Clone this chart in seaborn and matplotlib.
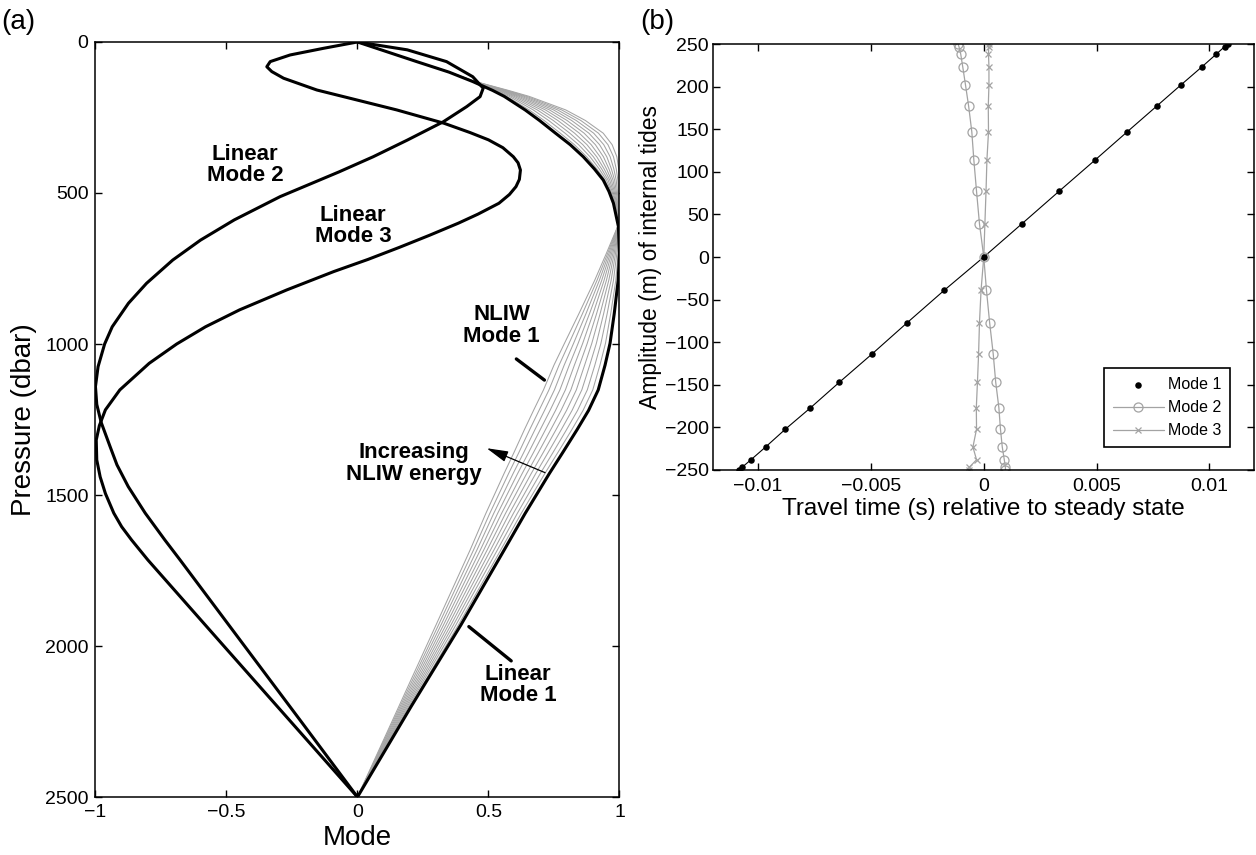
import numpy as np
import pandas as pd
import seaborn as sns
import matplotlib
matplotlib.use("Agg")
import matplotlib.pyplot as plt

# ---------------- data: panel (a) ----------------
mode1_p = [0, 65, 100, 131, 160, 180, 225, 260, 302, 340, 380, 420, 457, 495,
           534, 611, 700, 790, 900, 998, 1070, 1152, 1220, 1284, 1360, 1428,
           1561, 1682, 1930, 2200, 2500]
mode1_x = [0, 0.226, 0.35, 0.44, 0.515, 0.56, 0.64, 0.695, 0.756, 0.812, 0.862,
           0.904, 0.938, 0.96, 0.977, 0.996, 1.0, 0.995, 0.98, 0.964, 0.945,
           0.919, 0.882, 0.838, 0.783, 0.733, 0.64, 0.56, 0.395, 0.205, 0]
# most energetic NLIW mode-1 profile (same pressure levels as mode1_p)
nliw_x = [0, 0.228, 0.352, 0.45, 0.575, 0.655, 0.795, 0.87, 0.938, 0.972, 0.99,
          0.997, 1.0, 1.0, 1.0, 0.993, 0.95, 0.905, 0.845, 0.79, 0.75, 0.71,
          0.672, 0.637, 0.597, 0.56, 0.49, 0.43, 0.30, 0.158, 0]
# relative NLIW energy of each grey profile (fraction of the largest one)
nliw_levels = [0.1, 0.2, 0.3, 0.4, 0.5, 0.6, 0.7, 0.8, 0.9, 1.0]

mode2_p = [0, 26, 65, 115, 153, 181, 214, 264, 325, 380, 430, 512, 589, 656,
           722, 799, 865, 943, 1000, 1075, 1141, 1200, 1260, 1340, 1400, 1472,
           1560, 1649, 1715, 2000, 2250, 2500]
mode2_x = [0, 0.19, 0.34, 0.44, 0.48, 0.468, 0.417, 0.328, 0.19, 0.06, -0.07,
           -0.295, -0.47, -0.599, -0.705, -0.805, -0.874, -0.936, -0.965, -0.99,
           -1.0, -0.995, -0.978, -0.944, -0.918, -0.875, -0.81, -0.735, -0.677,
           -0.431, -0.215, 0]

mode3_p = [0, 21, 43, 65, 82, 98, 120, 159, 186, 225, 269, 300, 324, 350, 380,
           400, 424, 455, 479, 505, 534, 570, 600, 640, 680, 720, 760, 821, 887,
           943, 1000, 1064, 1152, 1218, 1270, 1318, 1384, 1440, 1495, 1560, 1605,
           1649, 1715, 2000, 2250, 2500]
mode3_x = [0, -0.13, -0.257, -0.333, -0.346, -0.327, -0.282, -0.155, -0.03, 0.15,
           0.33, 0.43, 0.50, 0.555, 0.595, 0.613, 0.622, 0.618, 0.605, 0.58,
           0.54, 0.46, 0.385, 0.275, 0.16, 0.04, -0.09, -0.27, -0.45, -0.58,
           -0.69, -0.795, -0.907, -0.962, -0.985, -0.997, -0.995, -0.982,
           -0.962, -0.93, -0.90, -0.862, -0.80, -0.51, -0.255, 0]

# ---------------- data: panel (b) ----------------
amplitude = [250, 247, 238, 223, 202, 177, 147, 114, 77, 39, 0,
             -39, -77, -114, -147, -177, -202, -223, -238, -247, -250]
tt_mode1 = [0.01082, 0.01068, 0.01030, 0.00966, 0.00874, 0.00766, 0.00636,
            0.00494, 0.00333, 0.00169, 0.0, -0.00175, -0.00339, -0.00496,
            -0.0064, -0.00768, -0.00879, -0.00967, -0.01032, -0.01072, -0.01084]
tt_mode2 = [-0.00114, -0.0011, -0.00102, -0.00093, -0.00081, -0.00067, -0.00053,
            -0.00044, -0.00032, -0.00019, 0.0, 0.00012, 0.00026, 0.00042,
            0.00053, 0.00067, 0.00074, 0.00082, 0.00091, 0.00096, 0.00096]
tt_mode3 = [0.00023, 0.00022, 0.00021, 0.00023, 0.00023, 0.0002, 0.00021,
            0.00014, 0.0001, 0.00005, 0.0, -0.00012, -0.00019, -0.00023,
            -0.00028, -0.00033, -0.00032, -0.00048, -0.00032, -0.00065, -0.00067]

a_xticks = [-1, -0.5, 0, 0.5, 1]
a_xticklabels = ["\u22121", "\u22120.5", "0", "0.5", "1"]
a_yticks = [0, 500, 1000, 1500, 2000, 2500]
b_xticks = [-0.01, -0.005, 0, 0.005, 0.01]
b_xticklabels = ["\u22120.01", "\u22120.005", "0", "0.005", "0.01"]
b_yticks = list(range(-250, 251, 50))

# ---------------- style ----------------
sns.set_theme(style="ticks", rc={
    "axes.edgecolor": "black", "axes.linewidth": 1.1,
    "xtick.color": "black", "ytick.color": "black",
    "text.color": "black", "axes.labelcolor": "black",
    "xtick.direction": "in", "ytick.direction": "in",
    "xtick.major.size": 5, "ytick.major.size": 5,
    "xtick.major.width": 1.0, "ytick.major.width": 1.0,
})
plt.rcParams["font.family"] = ["Liberation Sans", "DejaVu Sans"]

fig = plt.figure(figsize=(12.56, 8.55), dpi=100)
axA = fig.add_axes([0.0760, 0.0678, 0.4172, 0.8831])
axB = fig.add_axes([0.5677, 0.4503, 0.4311, 0.4982])

# ---------------- panel (a) ----------------
m1 = np.array(mode1_x)
nl = np.array(nliw_x)
for lvl in nliw_levels:
    sns.lineplot(x=m1 + lvl * (nl - m1), y=mode1_p, sort=False, estimator=None,
                 orient="y", ax=axA, color="0.64", lw=0.75)
for xs, ps in [(mode1_x, mode1_p), (mode2_x, mode2_p), (mode3_x, mode3_p)]:
    sns.lineplot(x=xs, y=ps, sort=False, estimator=None, orient="y", ax=axA,
                 color="black", lw=2.2)

axA.set_xlim(-1, 1)
axA.set_ylim(2500, 0)
axA.set_xticks(a_xticks)
axA.set_xticklabels(a_xticklabels)
axA.set_yticks(a_yticks)
axA.set_yticklabels([str(v) for v in a_yticks])
axA.tick_params(top=True, right=True, labelsize=14, pad=5)
axA.set_xlabel("Mode", fontsize=20, labelpad=3)
axA.set_ylabel("Pressure (dbar)", fontsize=20, labelpad=6)

bold = dict(fontsize=16, fontweight="bold", ha="center", va="center",
            linespacing=1.05)
axA.text(-0.429, 407, "Linear\nMode 2", **bold)
axA.text(-0.017, 609, "Linear\nMode 3", **bold)
axA.text(0.55, 940, "NLIW\nMode 1", **bold)
axA.text(0.215, 1395, "Increasing\nNLIW energy", **bold)
axA.text(0.613, 2129, "Linear\nMode 1", **bold)
axA.annotate("", xy=(0.722, 1125), xytext=(0.598, 1044),
             arrowprops=dict(arrowstyle="-", lw=2.4, color="black"))
axA.annotate("", xy=(0.417, 1930), xytext=(0.595, 2055),
             arrowprops=dict(arrowstyle="-", lw=2.4, color="black"))
axA.annotate("", xy=(0.493, 1345), xytext=(0.716, 1426),
             arrowprops=dict(arrowstyle="-|>,head_length=1.1,head_width=0.28",
                             lw=0.9, color="black", shrinkA=0, shrinkB=0))

# ---------------- panel (b) ----------------
sns.lineplot(x=tt_mode1, y=amplitude, sort=False, estimator=None, ax=axB,
             color="black", lw=0.8)
sns.scatterplot(x=tt_mode1, y=amplitude, ax=axB, color="black", s=22,
                linewidth=0, label="Mode 1", zorder=4)
sns.lineplot(x=tt_mode2, y=amplitude, sort=False, estimator=None, ax=axB,
             color="0.64", lw=0.9, marker="o", markersize=6.5,
             markerfacecolor="none", markeredgecolor="0.64",
             markeredgewidth=0.9, label="Mode 2")
sns.lineplot(x=tt_mode3, y=amplitude, sort=False, estimator=None, ax=axB,
             color="0.64", lw=0.9, marker="x", markersize=4.5,
             markeredgecolor="0.64", markeredgewidth=0.9, label="Mode 3")

axB.set_xlim(-0.012, 0.012)
axB.set_ylim(-250, 250)
axB.set_xticks(b_xticks)
axB.set_xticklabels(b_xticklabels)
axB.set_yticks(b_yticks)
axB.set_yticklabels([str(v).replace("-", "\u2212") for v in b_yticks])
axB.tick_params(top=True, right=True, labelsize=14)
axB.tick_params(axis="y", pad=3)
axB.tick_params(axis="x", pad=6)
axB.set_xlabel("Travel time (s) relative to steady state", fontsize=17.5,
               labelpad=2)
axB.set_ylabel("Amplitude (m) of internal tides", fontsize=16.5, labelpad=2)

handles, labels = axB.get_legend_handles_labels()
order = sorted(range(len(labels)), key=lambda i: labels[i])
leg = axB.legend([handles[i] for i in order], [labels[i] for i in order],
                 loc="lower right", bbox_to_anchor=(0.955, 0.054),
                 borderaxespad=0, fontsize=11.5, frameon=True, fancybox=False,
                 edgecolor="black", framealpha=1, handlelength=3.2,
                 handletextpad=0.25, borderpad=0.55, labelspacing=0.5)
leg.get_frame().set_linewidth(1.2)

fig.text(18 / 1256, 1 - 22 / 855, "(a)", fontsize=20, ha="center", va="center")
fig.text(657 / 1256, 1 - 22 / 855, "(b)", fontsize=20, ha="center", va="center")

fig.savefig("out.png", dpi=100)
